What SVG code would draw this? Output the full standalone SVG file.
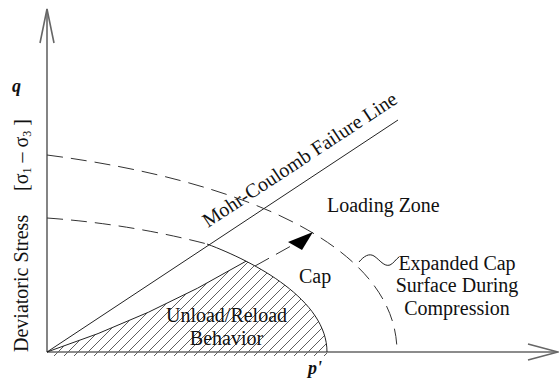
<svg xmlns="http://www.w3.org/2000/svg" width="559" height="381" viewBox="0 0 559 381">
<style>
  .t { font-family: "Liberation Serif", "Times New Roman", serif; font-size: 20px; fill: #111; }
  .bi { font-family: "Liberation Serif", "Times New Roman", serif; font-weight: bold; font-style: italic; font-size: 18px; fill: #111; }
  .axis { stroke: #666; stroke-width: 1.6; fill: none; }
  .thin { stroke: #222; stroke-width: 1; fill: none; }
  .dash { stroke: #333; stroke-width: 1; fill: none; stroke-dasharray: 16 8; }
</style>
<defs>
  <pattern id="hatch" patternUnits="userSpaceOnUse" width="10" height="10">
    <path d="M0,10 L10,0 M-2,2 L2,-2 M8,12 L12,8" stroke="#333" stroke-width="0.8"/>
  </pattern>
  <clipPath id="hclip">
    <path d="M47,352 Q150,318 246,261.2 C286.5,281.9 327,313 327,352 L327,356 L47,356 Z"/>
  </clipPath>
</defs>
<rect width="559" height="381" fill="#fff"/>

<g id="hatched-region">
  <rect x="40" y="250" width="300" height="110" fill="url(#hatch)" clip-path="url(#hclip)"/>
</g>

<g id="axes">
  <line class="axis" x1="47" y1="9" x2="47" y2="352"/>
  <path class="axis" d="M40,43 L47,9 L54,43" stroke-width="1.2"/>
  <line class="axis" x1="47" y1="352" x2="557" y2="352"/>
  <path class="axis" d="M528,344 L558,352 L528,360" stroke-width="1.2"/>
</g>

<g id="mohr-coulomb-line">
  <line class="thin" x1="47" y1="352" x2="398" y2="120"/>
</g>

<g id="expanded-cap">
  <path class="dash" d="M47,155 C240,180 397,245 397,352"/>
</g>

<g id="cap">
  <path class="dash" d="M47,218 Q130,224 207,244"/>
  <path class="thin" d="M207,244 C255,262 327,300 327,352"/>
</g>

<g id="unload-reload">
  <path class="thin" d="M47,352 Q150,318 246,261.2"/>
</g>

<g id="connectors">
  <path class="dash" d="M255,266 L300,241" stroke-dasharray="12 6"/>
  <polygon points="313,232 288,242 302,250" fill="#000"/>
  <path class="thin" d="M359,262 C364,256 369,253 374,256 C380,260 384,267 390,265 C394,263 396,259 399,257"/>
</g>

<g id="labels">
  <text class="bi" x="12" y="92">q</text>
  <text class="t" transform="translate(28,352) rotate(-90)">Deviatoric Stress</text>
  <text class="t" transform="translate(28,191) rotate(-90)">[σ<tspan font-size="12" dy="3">1</tspan><tspan dy="-3"> – σ</tspan><tspan font-size="12" dy="3">3</tspan><tspan dy="-3"> ]</tspan></text>
  <text class="t" transform="translate(208,228) rotate(-33.4)">Mohr-Coulomb Failure Line</text>
  <text class="t" x="327" y="212">Loading Zone</text>
  <text class="t" x="299" y="283">Cap</text>
  <text class="t" x="226.5" y="322" text-anchor="middle">Unload/Reload</text>
  <text class="t" x="226.5" y="345" text-anchor="middle">Behavior</text>
  <text class="t" x="457" y="270" text-anchor="middle">Expanded Cap</text>
  <text class="t" x="457" y="292" text-anchor="middle">Surface During</text>
  <text class="t" x="457" y="315" text-anchor="middle">Compression</text>
  <text class="bi" x="308" y="374">p'</text>
</g>
</svg>
